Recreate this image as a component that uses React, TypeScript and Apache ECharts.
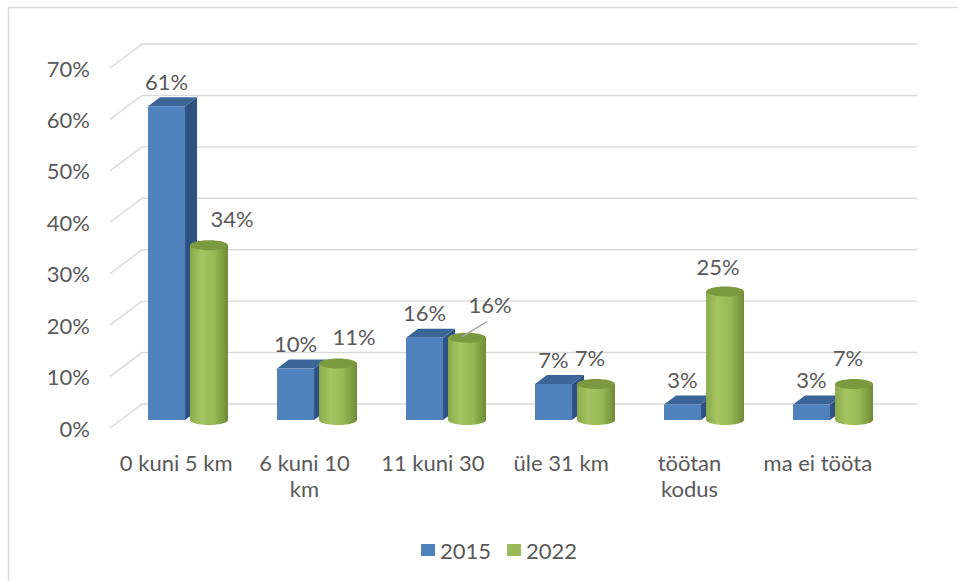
import React, { useEffect, useRef } from "react";
import * as echarts from "echarts";

const categories = ["0 kuni 5 km", "6 kuni 10 km", "11 kuni 30", "üle 31 km", "töötan kodus", "ma ei tööta"];
const values2015 = [61, 10, 16, 7, 3, 3];
const values2022 = [34, 11, 16, 7, 25, 7];
const yTicks = [0, 10, 20, 30, 40, 50, 60, 70];
const seriesNames = ["2015", "2022"];

// label placement tweaks (layout only)
const greenLabelDx = [23, 16, 23, -6, -7, -6];
const greenLabelDy = [0, 0, -6, 0, 2, 0];
const leaderIndex = 2;

const TEXT = "#595959";
const FONT = "Lato";
const DEPTH_X = 32;
const DEPTH_Y = 24;

const wrapLabel = (s: string) => {
  if (s.length <= 11) return s;
  const k = s.lastIndexOf(" ");
  return s.slice(0, k) + "\n" + s.slice(k + 1);
};

export default function App() {
  const ref = useRef<HTMLDivElement>(null);
  useEffect(() => {
    if (!ref.current) return;
    const chart = echarts.init(ref.current, null, { renderer: "svg" });

    const blueRender = (params: any, api: any) => {
      const i = api.value(0);
      const v = api.value(1);
      const top = api.coord([i, v]);
      const base = api.coord([i, 0]);
      const band = api.size([1, 0])[0];
      const cx = top[0];
      const x0 = cx - band * 0.31;
      const x1 = cx - band * 0.023;
      const yT = top[1];
      const yB = base[1];
      const dx = 12;
      const dy = -9;
      return {
        type: "group",
        children: [
          {
            type: "polygon",
            shape: { points: [[x1, yT], [x1 + dx, yT + dy], [x1 + dx, yB + dy], [x1, yB]] },
            style: { fill: "#2f5181" },
          },
          {
            type: "polygon",
            shape: { points: [[x0, yT], [x1, yT], [x1 + dx, yT + dy], [x0 + dx, yT + dy]] },
            style: { fill: "#3b6497" },
          },
          {
            type: "rect",
            shape: { x: x0, y: yT, width: x1 - x0, height: yB - yT },
            style: { fill: "#4f81bd" },
          },
          {
            type: "text",
            x: (x0 + x1) / 2,
            y: yT - 25,
            style: {
              text: v + "%",
              fill: TEXT,
              fontSize: 22,
              fontFamily: FONT,
              align: "center",
              verticalAlign: "middle",
            },
          },
        ],
      };
    };

    const greenRender = (params: any, api: any) => {
      const i = api.value(0);
      const v = api.value(1);
      const top = api.coord([i, v]);
      const base = api.coord([i, 0]);
      const band = api.size([1, 0])[0];
      const cx = top[0];
      const gx0 = cx + band * 0.016;
      const gx1 = cx + band * 0.31;
      const gc = (gx0 + gx1) / 2;
      const rx = (gx1 - gx0) / 2;
      const ry = 5;
      const yT = top[1];
      const yB = base[1];
      const grad = new echarts.graphic.LinearGradient(0, 0, 1, 0, [
        { offset: 0, color: "#8aab4b" },
        { offset: 0.3, color: "#a4c560" },
        { offset: 0.65, color: "#98b856" },
        { offset: 1, color: "#6f8b36" },
      ]);
      const children: any[] = [
        {
          type: "ellipse",
          shape: { cx: gc, cy: yB, rx, ry },
          style: { fill: grad },
        },
        {
          type: "rect",
          shape: { x: gx0, y: yT, width: gx1 - gx0, height: yB - yT },
          style: { fill: grad },
        },
        {
          type: "ellipse",
          shape: { cx: gc, cy: yT, rx, ry },
          style: { fill: "#7b9a40" },
        },
      ];
      let lx = gc + greenLabelDx[i];
      let ly = yT - 27 + greenLabelDy[i];
      if (i === leaderIndex) {
        ly = yT - 33;
        children.push({
          type: "line",
          shape: { x1: gc - 5, y1: yT - 1, x2: gc + 20, y2: yT - 16 },
          style: { stroke: "#a6a6a6", lineWidth: 1.5 },
        });
      }
      children.push({
        type: "text",
        x: lx,
        y: ly,
        style: {
          text: v + "%",
          fill: TEXT,
          fontSize: 22,
          fontFamily: FONT,
          align: "center",
          verticalAlign: "middle",
        },
      });
      return { type: "group", children };
    };

    const gridRender = (params: any, api: any) => {
      const v = api.value(1);
      const front = api.coord([0, v]);
      const end = api.coord([1, v]);
      return {
        type: "polyline",
        shape: {
          points: [
            [front[0], front[1]],
            [front[0] + DEPTH_X, front[1] - DEPTH_Y],
            [end[0], front[1] - DEPTH_Y],
          ],
        },
        style: { stroke: "#d9d9d9", lineWidth: 1.4, fill: "none" },
      };
    };

    chart.setOption({
      animation: false,
      backgroundColor: "#ffffff",
      textStyle: { fontFamily: FONT },
      graphic: [
        {
          type: "line",
          shape: { x1: 8, y1: 7.5, x2: 958, y2: 7.5 },
          style: { stroke: "#d9d9d9", lineWidth: 1.5 },
        },
        {
          type: "line",
          shape: { x1: 8.5, y1: 7, x2: 8.5, y2: 581 },
          style: { stroke: "#d9d9d9", lineWidth: 1.5 },
        },
      ],
      legend: {
        data: seriesNames,
        left: 416,
        top: 534,
        itemWidth: 14,
        itemHeight: 12,
        itemGap: 16,
        icon: "rect",
        textStyle: { color: TEXT, fontSize: 22, fontFamily: FONT },
      },
      grid: [
        { left: 123.5, width: 774, top: 60, height: 360 },
        { left: 112, width: 770, top: 68, height: 360 },
        { left: 110, width: 807, top: 68, height: 360 },
      ],
      xAxis: [
        { gridIndex: 0, type: "category", data: categories, show: false },
        {
          gridIndex: 1,
          type: "category",
          data: categories,
          axisLine: { show: false },
          axisTick: { show: false },
          axisLabel: {
            color: TEXT,
            fontSize: 22,
            fontFamily: FONT,
            margin: 21,
            lineHeight: 26,
            interval: 0,
            formatter: wrapLabel,
          },
        },
        { gridIndex: 2, type: "value", min: 0, max: 1, show: false },
      ],
      yAxis: [
        { gridIndex: 0, type: "value", min: 0, max: 70, show: false },
        {
          gridIndex: 1,
          type: "value",
          min: 0,
          max: 70,
          interval: 10,
          axisLine: { show: false },
          axisTick: { show: false },
          splitLine: { show: false },
          axisLabel: {
            color: TEXT,
            fontSize: 22,
            fontFamily: FONT,
            margin: 22,
            formatter: "{value}%",
          },
        },
        { gridIndex: 2, type: "value", min: 0, max: 70, show: false },
      ],
      series: [
        {
          type: "custom",
          name: "grid",
          xAxisIndex: 2,
          yAxisIndex: 2,
          renderItem: gridRender,
          data: yTicks.map((t) => [0, t]),
          encode: { x: 0, y: 1 },
          silent: true,
          z: 1,
        },
        {
          type: "custom",
          name: seriesNames[0],
          xAxisIndex: 0,
          yAxisIndex: 0,
          renderItem: blueRender,
          data: values2015.map((v, i) => [i, v]),
          encode: { x: 0, y: 1 },
          itemStyle: { color: "#4f81bd" },
          z: 3,
        },
        {
          type: "custom",
          name: seriesNames[1],
          xAxisIndex: 0,
          yAxisIndex: 0,
          renderItem: greenRender,
          data: values2022.map((v, i) => [i, v]),
          encode: { x: 0, y: 1 },
          itemStyle: { color: "#9bbb59" },
          z: 3,
        },
      ],
    });
    return () => chart.dispose();
  }, []);
  return (
    <div
      ref={ref}
      style={{ position: "fixed", left: 0, top: 0, width: 958, height: 581 }}
    />
  );
}
